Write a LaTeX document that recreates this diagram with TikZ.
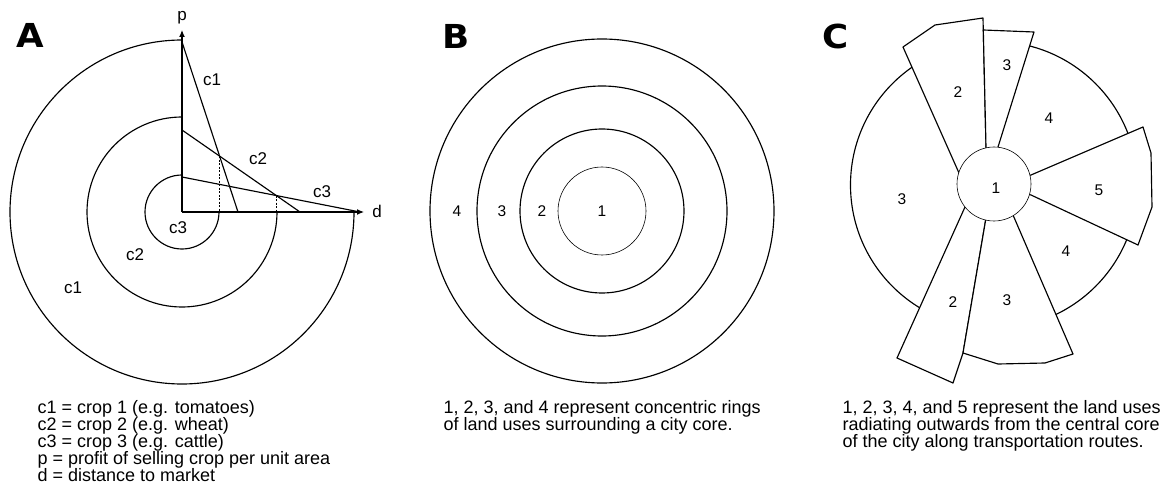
\documentclass[tikz,border=0pt]{standalone}
\usepackage{fontspec}
\setmainfont{Liberation Sans}
\newfontfamily\headfont{DejaVu Sans}
\usetikzlibrary{arrows.meta}
\begin{document}
\begin{tikzpicture}[x=1pt,y=1pt,
  line width=1.15pt, line join=round,
  lab/.style={font=\fontsize{17}{17}\selectfont, inner sep=0pt},
  num/.style={font=\fontsize{15.5}{15.5}\selectfont, inner sep=0pt},
  numc/.style={font=\fontsize{15.5}{15.5}\selectfont, inner sep=0pt},
  head/.style={font=\headfont\fontsize{33}{33}\selectfont\bfseries, inner sep=0pt},
  capt/.style={font=\fontsize{18}{17}\selectfont, inner sep=0pt, anchor=north west, align=left},
  axis/.style={-{Latex[length=7pt,width=6pt]}},
  guide/.style={line width=0.9pt, dash pattern=on 2pt off 1.5pt},
  thin/.style={line width=0.6pt},
  wedge/.style={fill=white, draw=black}]
\useasboundingbox (0,0) rectangle (1163,-484);
\fill[white] (0,0) rectangle (1163,-484);

% ---------------- Panel A ----------------
\node[head] (hA) at (30,-35) {\scalebox{1.08}[1]{A}};
\coordinate (O) at (182,-212);
\draw (182,-40) arc[start angle=90, end angle=360, radius=172];
\draw (182,-117) arc[start angle=90, end angle=360, radius=95];
\draw (182,-175) arc[start angle=90, end angle=360, radius=37];
\coordinate (ptip) at (182,-30);
\coordinate (dtip) at (364,-212);
\draw[axis] (O) -- (ptip);
\draw[axis] (O) -- (dtip);
\node[lab] (plab) at (182,-18) {p};
\node[lab] (dlab) at (377,-211) {d};
\coordinate (c1a) at (182,-42);  \coordinate (c1b) at (238,-212);
\coordinate (c2a) at (182,-130); \coordinate (c2b) at (300,-212);
\coordinate (c3a) at (182,-177); \coordinate (c3b) at (360,-212);
\draw (c1a) -- (c1b);
\draw (c2a) -- (c2b);
\draw (c3a) -- (c3b);
\coordinate (x12) at (intersection of c1a--c1b and c2a--c2b);
\coordinate (x23) at (intersection of c2a--c2b and c3a--c3b);
\draw[guide] (x12) -- (x12 |- O);
\draw[guide] (x23) -- (x23 |- O);
\node[lab] (lc1) at (212,-80) {c1};
\node[lab] (lc2) at (258,-159) {c2};
\node[lab] (lc3) at (322,-192) {c3};
\node[lab] (rc3) at (178,-228) {c3};
\node[lab] (rc2) at (135,-255) {c2};
\node[lab] (rc1) at (73,-288) {c1};
\node[capt] (capA) at (37,-400) {c1 = crop 1 (e.g. tomatoes)\\c2 = crop 2 (e.g. wheat)\\c3 = crop 3 (e.g. cattle)\\p = profit of selling crop per unit area\\d = distance to market};

% ---------------- Panel B ----------------
\node[head] (hB) at (456,-36) {\scalebox{1.08}[1]{B}};
\coordinate (OB) at (602,-211);
\draw (OB) circle[radius=172];
\draw (OB) circle[radius=125];
\draw (OB) circle[radius=82];
\draw[thin] (OB) circle[radius=44];
\node[num] (b4) at (457,-211) {4};
\node[num] (b3) at (502,-211) {3};
\node[num] (b2) at (542,-211) {2};
\node[num] (b1) at (602,-211) {1};
\node[capt] (capB) at (443,-400) {1, 2, 3, and 4 represent concentric rings\\of land uses surrounding a city core.};

% ---------------- Panel C ----------------
\node[head] (hC) at (836,-36) {\scalebox{1.08}[1]{C}};
\coordinate (OC) at (994,-185);
\draw (OC) circle[radius=143.5];
\draw[wedge] (959,-173) -- (903,-47) -- (935,-25) -- (983,-18) -- (986,-147) -- (OC) -- cycle;
\draw[wedge] (983.3,-30) -- (1034,-32) -- (998,-147) -- (OC) -- (986,-147) -- cycle;
\draw[wedge] (1031,-175) -- (1143,-127) -- (1151,-153) -- (1152,-207) -- (1138,-245) -- (1031,-195) -- (OC) -- cycle;
\draw[wedge] (965,-207) -- (897,-358) -- (953,-383) -- (963,-353) -- (986,-218) -- (OC) -- cycle;
\draw[wedge] (986,-218) -- (963,-353) -- (998,-364) -- (1045,-363) -- (1073,-354) -- (1013,-215) -- (OC) -- cycle;
\draw[thin, fill=white] (994,-184) circle[radius=37];
\node[numc] (cu2) at (958,-92) {2};
\node[numc] (cu3) at (1007,-65) {3};
\node[numc] (cu4) at (1049,-118) {4};
\node[numc] (c1c) at (996,-188) {1};
\node[numc] (c5) at (1099,-190) {5};
\node[numc] (cl3) at (902,-199) {3};
\node[numc] (cd4) at (1066,-251) {4};
\node[numc] (cd3) at (1007,-300) {3};
\node[numc] (cd2) at (953,-302) {2};
\node[capt] (capC) at (842,-400) {1, 2, 3, 4, and 5 represent the land uses\\radiating outwards from the central core\\of the city along transportation routes.};
\end{tikzpicture}
\end{document}
